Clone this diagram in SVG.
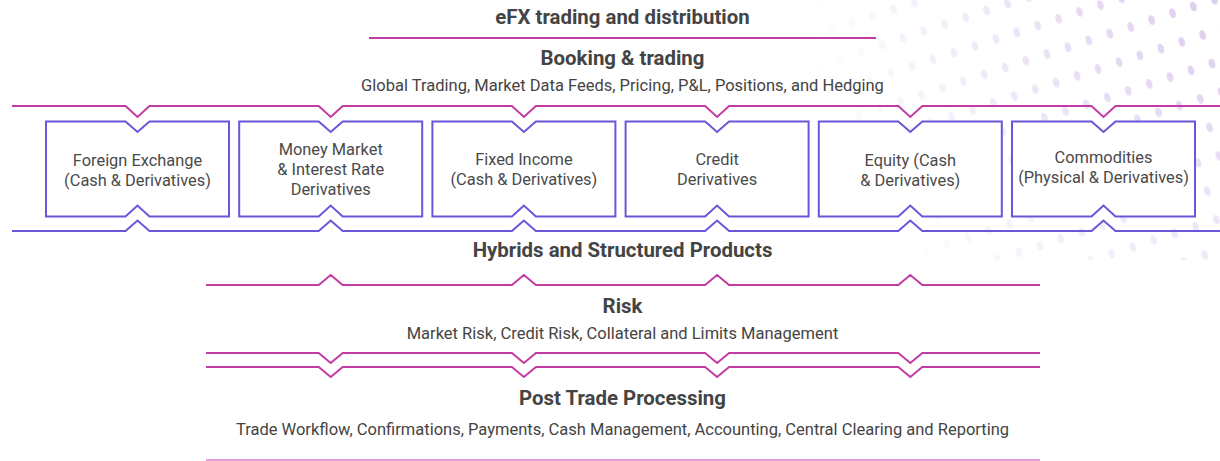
<svg xmlns="http://www.w3.org/2000/svg" width="1220" height="461" viewBox="0 0 1220 461">
<style>
.h{font-family:Roboto,"Liberation Sans",sans-serif;font-weight:700;font-size:20.4px;fill:#444;text-anchor:middle}
.s{font-family:Roboto,"Liberation Sans",sans-serif;font-size:16.5px;fill:#444;text-anchor:middle}
.b{font-family:Roboto,"Liberation Sans",sans-serif;font-size:16.4px;fill:#4a4a4a;text-anchor:middle}
.mg{fill:none;stroke:#c23ba3;stroke-width:2}
.pu{fill:none;stroke:#6b55d9;stroke-width:2}
.box{fill:#fff;stroke:#6b55d9;stroke-width:2}
</style>
<defs>
<pattern id="dots" width="22" height="30" patternUnits="userSpaceOnUse" patternTransform="rotate(-18)">
<ellipse cx="11" cy="15" rx="3.2" ry="5" fill="#c9b0e6"/>
</pattern>
<radialGradient id="fade" cx="1240" cy="-20" r="440" gradientUnits="userSpaceOnUse">
<stop offset="0" stop-color="#fff" stop-opacity="1"/>
<stop offset="0.5" stop-color="#fff" stop-opacity="0.5"/>
<stop offset="1" stop-color="#fff" stop-opacity="0"/>
</radialGradient>
<mask id="m"><rect width="1220" height="461" fill="url(#fade)"/></mask>
</defs>
<rect width="1220" height="461" fill="#fff"/>
<rect x="740" y="0" width="480" height="260" fill="url(#dots)" mask="url(#m)" opacity="0.7"/>

<g id="connectors">
<path class="mg" d="M369 38H876"/>
<path class="mg" d="M12 106H125.5L137.5 117L149.5 106H318.7L330.7 117L342.7 106H511.9L523.9 117L535.9 106H705.1L717.1 117L729.1 106H898.3L910.3 117L922.3 106H1091.5L1103.5 117L1115.5 106H1220"/>
<path class="pu" d="M12 231H125.5L137.5 220.5L149.5 231H318.7L330.7 220.5L342.7 231H511.9L523.9 220.5L535.9 231H705.1L717.1 220.5L729.1 231H898.3L910.3 220.5L922.3 231H1091.5L1103.5 220.5L1115.5 231H1220"/>
<path class="mg" d="M206 285H318.7L330.7 275L342.7 285H511.9L523.9 275L535.9 285H705.1L717.1 275L729.1 285H898.3L910.3 275L922.3 285H1040"/>
<path class="mg" d="M206 353H318.7L330.7 363L342.7 353H511.9L523.9 363L535.9 353H705.1L717.1 363L729.1 353H898.3L910.3 363L922.3 353H1040"/>
<path class="mg" d="M206 367H318.7L330.7 377L342.7 367H511.9L523.9 377L535.9 367H705.1L717.1 377L729.1 367H898.3L910.3 377L922.3 367H1040"/>
<path d="M206 460H1040" fill="none" stroke="#e79ad8" stroke-width="2"/>
</g>

<g id="title"><text class="h" x="622.5" y="24">eFX trading and distribution</text></g>
<g id="booking">
<text class="h" x="622.5" y="65">Booking &amp; trading</text>
<text class="s" x="622.5" y="91">Global Trading, Market Data Feeds, Pricing, P&amp;L, Positions, and Hedging</text>
</g>

<g id="fx">
<path class="box" d="M46 121.5H125.5L137.5 132L149.5 121.5H229V216.5H149.5L137.5 205.5L125.5 216.5H46Z"/>
<text class="b" x="137.5" y="165.5">Foreign Exchange</text>
<text class="b" x="137.5" y="185.5">(Cash &amp; Derivatives)</text>
</g>
<g id="mm">
<path class="box" d="M239.2 121.5H318.7L330.7 132L342.7 121.5H422.2V216.5H342.7L330.7 205.5L318.7 216.5H239.2Z"/>
<text class="b" x="330.7" y="155">Money Market</text>
<text class="b" x="330.7" y="175">&amp; Interest Rate</text>
<text class="b" x="330.7" y="195">Derivatives</text>
</g>
<g id="fi">
<path class="box" d="M432.4 121.5H511.9L523.9 132L535.9 121.5H615.4V216.5H535.9L523.9 205.5L511.9 216.5H432.4Z"/>
<text class="b" x="523.9" y="165">Fixed Income</text>
<text class="b" x="523.9" y="185">(Cash &amp; Derivatives)</text>
</g>
<g id="credit">
<path class="box" d="M625.6 121.5H705.1L717.1 132L729.1 121.5H808.6V216.5H729.1L717.1 205.5L705.1 216.5H625.6Z"/>
<text class="b" x="717.1" y="165">Credit</text>
<text class="b" x="717.1" y="185">Derivatives</text>
</g>
<g id="equity">
<path class="box" d="M818.8 121.5H898.3L910.3 132L922.3 121.5H1001.8V216.5H922.3L910.3 205.5L898.3 216.5H818.8Z"/>
<text class="b" x="910.3" y="165.5">Equity (Cash</text>
<text class="b" x="910.3" y="185.5">&amp; Derivatives)</text>
</g>
<g id="commodities">
<path class="box" d="M1012 121.5H1091.5L1103.5 132L1115.5 121.5H1195V216.5H1115.5L1103.5 205.5L1091.5 216.5H1012Z"/>
<text class="b" x="1103.5" y="163">Commodities</text>
<text class="b" x="1103.5" y="183">(Physical &amp; Derivatives)</text>
</g>

<g id="hybrids"><text class="h" x="622.5" y="256.5">Hybrids and Structured Products</text></g>
<g id="risk">
<text class="h" x="622.5" y="313">Risk</text>
<text class="s" x="622.5" y="338.5">Market Risk, Credit Risk, Collateral and Limits Management</text>
</g>
<g id="posttrade">
<text class="h" x="622.5" y="405">Post Trade Processing</text>
<text class="s" x="622.5" y="435">Trade Workflow, Confirmations, Payments, Cash Management, Accounting, Central Clearing and Reporting</text>
</g>
</svg>
